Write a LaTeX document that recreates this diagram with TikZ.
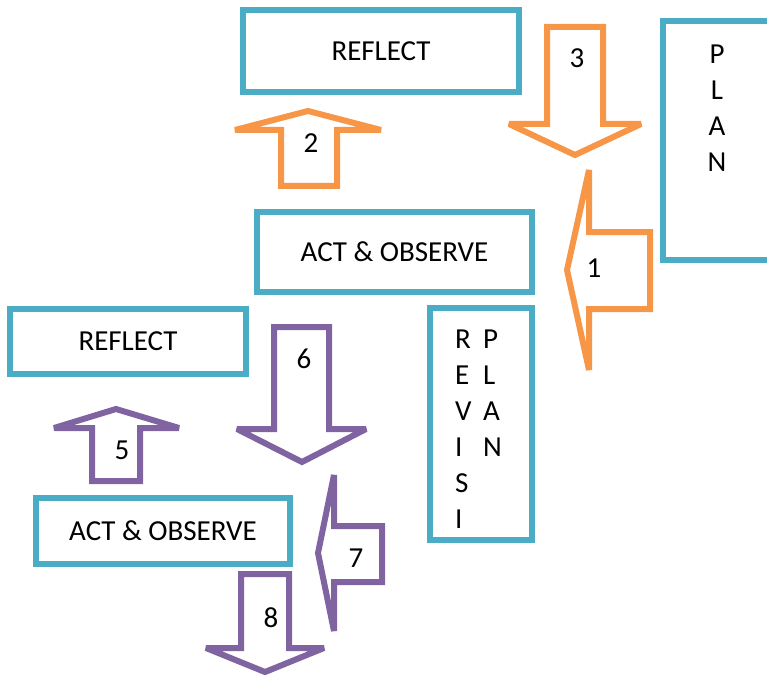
\documentclass[tikz,border=0pt]{standalone}
\usepackage{fontspec}
\setmainfont{Carlito}
\definecolor{boxblue}{HTML}{4BACC6}
\definecolor{arrorange}{HTML}{F79646}
\definecolor{arrpurple}{HTML}{8064A2}

\begin{document}
\begin{tikzpicture}[x=1pt,y=-1pt,
 box/.style={draw=boxblue,line width=6pt,fill=white,inner sep=0pt,font=\fontsize{29}{36}\selectfont},
 blockarr/.style={line width=6pt,line join=miter,miter limit=2,fill=white},
 num/.style={inner sep=0pt,font=\fontsize{29}{36}\selectfont},
 vtext/.style={inner sep=0pt,font=\fontsize{29}{36}\selectfont}]
\useasboundingbox (0,0) rectangle (767,676);
\node[box,minimum width=276pt,minimum height=82pt] (reflA) at (381,51) {REFLECT};
\node[box,minimum width=275pt,minimum height=80pt] (actA) at (394.5,252) {ACT \& OBSERVE};
\node[box,minimum width=127pt,minimum height=239pt] (planA) at (726.5,140.5) {};
\node[vtext,align=center,anchor=north] (planA-t) at (717,45) {P\\L\\A\\N};
\node[box,minimum width=236pt,minimum height=65pt] (reflB) at (128,341.5) {REFLECT};
\node[box,minimum width=254pt,minimum height=66pt] (actB) at (163,531) {ACT \& OBSERVE};
\node[box,minimum width=102pt,minimum height=232pt] (revB) at (481,424) {};
\node[vtext,align=left,anchor=north west] (revB-t) at (455,330) {R\\E\\V\\I\\S\\I};
\node[vtext,align=left,anchor=north west] (revB-p) at (483,330) {P\\L\\A\\N};

\draw[blockarr,draw=arrorange] (567,270) -- (589,170) -- (589,232) -- (650,232) -- (650,309) -- (589,309) -- (589,370) -- cycle;
\draw[blockarr,draw=arrorange] (308,111) -- (381,130) -- (337,130) -- (337,186) -- (281,186) -- (281,130) -- (235,130) -- cycle;
\draw[blockarr,draw=arrorange] (547,27) -- (603,27) -- (603,124) -- (641,124) -- (575,155) -- (509,124) -- (547,124) -- cycle;
\draw[blockarr,draw=arrpurple] (116,409) -- (179,428) -- (140,428) -- (140,481) -- (92,481) -- (92,428) -- (54,428) -- cycle;
\draw[blockarr,draw=arrpurple] (274,327) -- (329,327) -- (329,429) -- (366,429) -- (302,462) -- (237,429) -- (274,429) -- cycle;
\draw[blockarr,draw=arrpurple] (318,553) -- (334,475) -- (334,526) -- (382,526) -- (382,582) -- (334,582) -- (334,631) -- cycle;
\draw[blockarr,draw=arrpurple] (241,574) -- (289,574) -- (289,648) -- (324,648) -- (265,672) -- (206,648) -- (241,648) -- cycle;

\node[num] (n1) at (594,268) {1};
\node[num] (n2) at (311,143) {2};
\node[num] (n3) at (577,58) {3};
\node[num] (n5) at (122,450) {5};
\node[num] (n6) at (304,359) {6};
\node[num] (n7) at (356,558) {7};
\node[num] (n8) at (271,618) {8};
\end{tikzpicture}
\end{document}
